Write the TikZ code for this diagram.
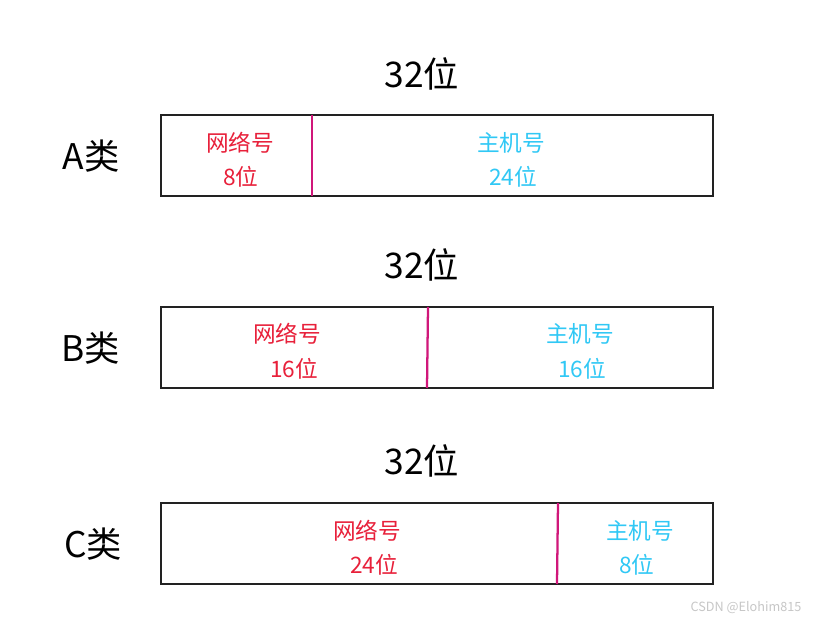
\documentclass[tikz,border=0pt]{standalone}
\usepackage{fontspec}
\setmainfont{Noto Sans CJK SC}
\definecolor{netred}{HTML}{E8203A}
\definecolor{hostcyan}{HTML}{30C8F5}
\definecolor{divmag}{HTML}{D0177A}
\definecolor{boxgray}{HTML}{222222}
\begin{document}
\begin{tikzpicture}[x=0.75pt,y=-0.75pt,
  title/.style={font=\fontsize{26.5}{30}\selectfont, text=black, inner sep=0pt},
  cls/.style={font=\fontsize{26.5}{30}\selectfont, text=black, inner sep=0pt},
  nettxt/.style={font=\fontsize{17}{20}\selectfont, text=netred, inner sep=0pt},
  hosttxt/.style={font=\fontsize{17}{20}\selectfont, text=hostcyan, inner sep=0pt},
  frame/.style={draw=boxgray, line width=2.1pt},
  divider/.style={draw=divmag, line width=1.7pt}]
\useasboundingbox (0,0) rectangle (818,623);
\fill[white] (0,0) rectangle (818,623);
% A class
\node[title] (tA) at (422,74) {32位};
\node[cls] (cA) at (91,156) {A类};
\draw[frame] (161,115) rectangle (713,196);
\coordinate (dAt) at (312,115); \coordinate (dAb) at (312,196);
\draw[divider] (dAt) -- (dAb);
\node[nettxt] (nA1) at (240,143) {网络号};
\node[nettxt] (nA2) at (241,177) {8位};
\node[hosttxt] (hA1) at (511,143) {主机号};
\node[hosttxt] (hA2) at (513,177) {24位};
% B class
\node[title] (tB) at (422,265) {32位};
\node[cls] (cB) at (91,348) {B类};
\draw[frame] (161,307) rectangle (713,388);
\coordinate (dBt) at (428,307); \coordinate (dBb) at (427,388);
\draw[divider] (dBt) -- (dBb);
\node[nettxt] (nB1) at (287,334) {网络号};
\node[nettxt] (nB2) at (294,369) {16位};
\node[hosttxt] (hB1) at (580,334) {主机号};
\node[hosttxt] (hB2) at (582,369) {16位};
% C class
\node[title] (tC) at (422,461) {32位};
\node[cls] (cC) at (93,544) {C类};
\draw[frame] (161,503) rectangle (713,584);
\coordinate (dCt) at (558,503); \coordinate (dCb) at (557,584);
\draw[divider] (dCt) -- (dCb);
\node[nettxt] (nC1) at (367,531) {网络号};
\node[nettxt] (nC2) at (374,565) {24位};
\node[hosttxt] (hC1) at (640,531) {主机号};
\node[hosttxt] (hC2) at (637,565) {8位};
% watermark
\node[font=\fontsize{9.5}{11}\selectfont, text=black!22, inner sep=0pt] (wm) at (746,608) {CSDN @Elohim815};
\end{tikzpicture}
\end{document}
